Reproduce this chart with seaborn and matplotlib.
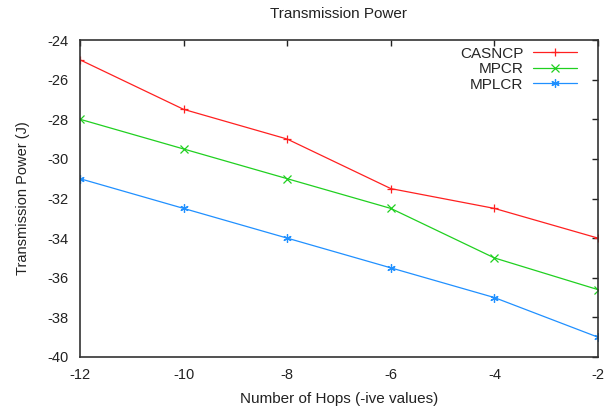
import matplotlib
matplotlib.use("Agg")
import matplotlib.pyplot as plt
import seaborn as sns
import pandas as pd

hops = [-12, -10, -8, -6, -4, -2]
casncp = [-25, -27.5, -29, -31.5, -32.5, -34]
mpcr = [-28, -29.5, -31, -32.5, -35, -36.6]
mplcr = [-31, -32.5, -34, -35.5, -37, -39]
series_names = ["CASNCP", "MPCR", "MPLCR"]
colors = ["#ff2020", "#20d020", "#2090ff"]
markers = ["+", "x", (6, 2, 0)]

sns.set_style("white")
plt.rcParams['font.family'] = ['Liberation Sans', 'DejaVu Sans']
plt.rcParams['axes.unicode_minus'] = False

df = pd.DataFrame({"hops": hops * 3,
                   "power": casncp + mpcr + mplcr,
                   "series": sum([[n] * len(hops) for n in series_names], [])})

fig = plt.figure(figsize=(6.09, 4.07), dpi=100)
ax = fig.add_axes([80/609, 1 - 357/407, (598-80)/609, (357-40)/407])

for name, c, m in zip(series_names, colors, markers):
    sub = df[df.series == name]
    sns.lineplot(data=sub, x="hops", y="power", ax=ax, color=c, marker=m,
                 markersize=6, markeredgewidth=0.9, markeredgecolor=c,
                 linewidth=0.9, label=name)

ax.set_xlim(-12, -2)
ax.set_ylim(-40, -24)
ax.set_xticks(hops)
ax.set_yticks(range(-40, -23, 2))
ax.tick_params(direction="in", top=True, right=True, length=4, width=1,
               labelsize=10.5, colors="#222222", pad=8)
for s in ax.spines.values():
    s.set_color("#333333")
    s.set_linewidth(1.2)
ax.set_xlabel("Number of Hops (-ive values)", fontsize=11, labelpad=7, color="#222222")
ax.set_ylabel("Transmission Power (J)", fontsize=10.5, labelpad=13, color="#222222")
ax.set_title("Transmission Power", fontsize=11, pad=16, color="#222222")

leg = ax.legend(loc="upper right", bbox_to_anchor=(0.972, 0.998), frameon=False,
                fontsize=11, markerfirst=False, handlelength=2.9, borderaxespad=0,
                labelspacing=0.1, handletextpad=0.65)
for t in leg.get_texts():
    t.set_ha("right")

fig.savefig("out.png", dpi=100)
